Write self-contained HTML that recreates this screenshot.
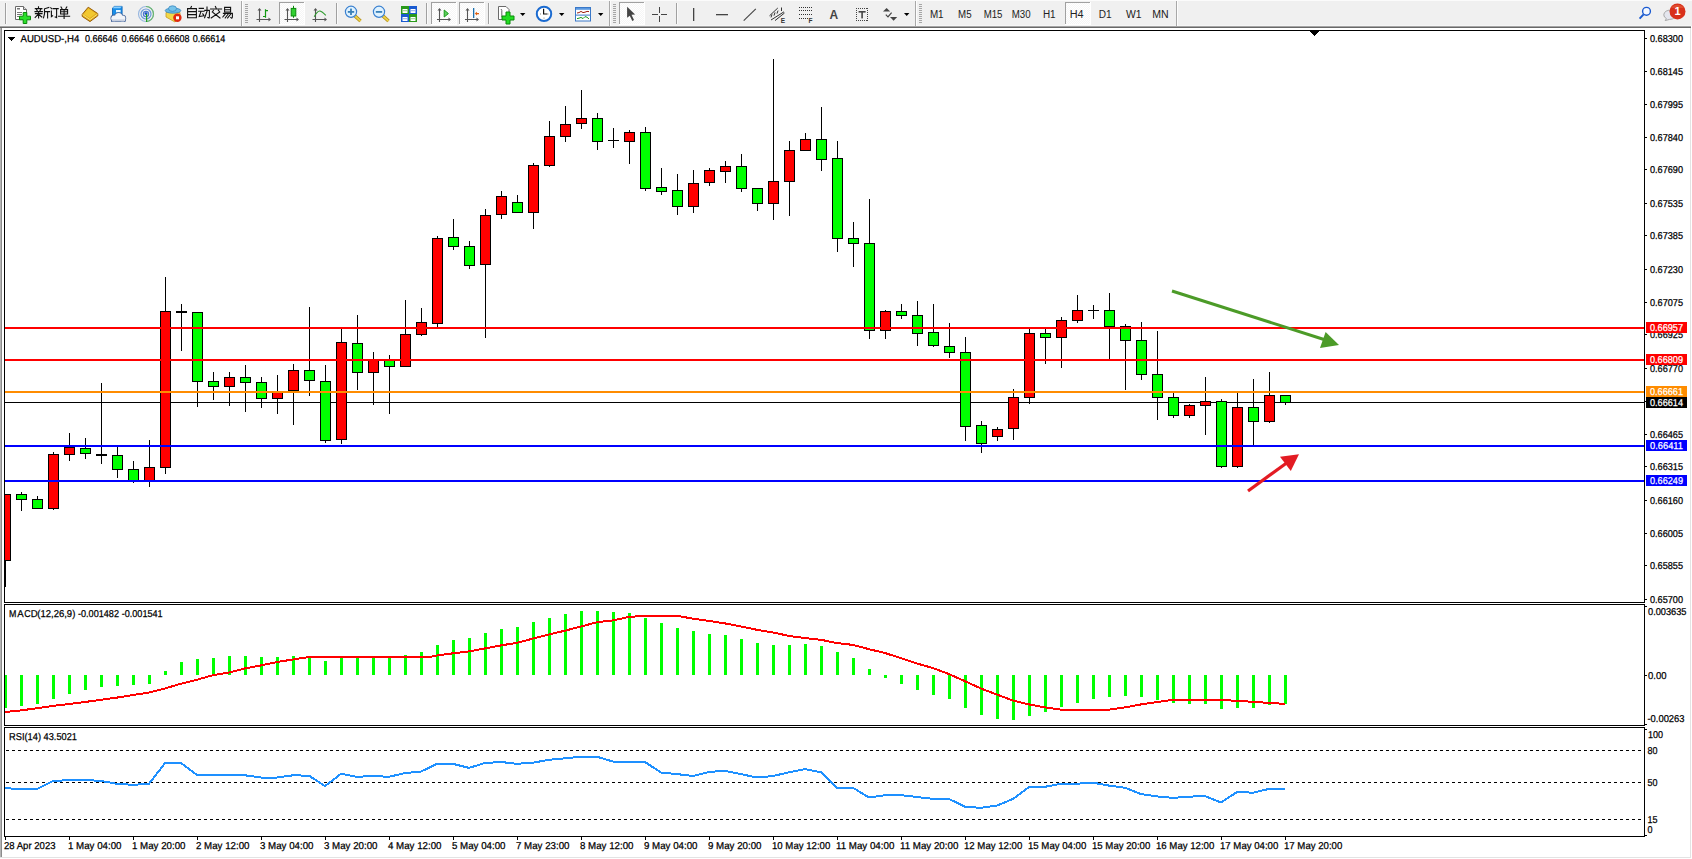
<!DOCTYPE html>
<html><head><meta charset="utf-8"><style>
html,body{margin:0;padding:0;background:#fff;}
body{width:1692px;height:859px;overflow:hidden;position:relative;font-family:"Liberation Sans", sans-serif;}
svg{position:absolute;left:0;top:0;}
text{font-family:"Liberation Sans", sans-serif;}
</style></head><body>
<svg width="1692" height="859" viewBox="0 0 1692 859" shape-rendering="crispEdges">
<rect x="0" y="0" width="1692" height="859" fill="#fff"/>
<rect x="0" y="26" width="1" height="832" fill="#b4b4b4"/><rect x="1" y="26" width="1" height="832" fill="#8c8c8c"/>
<rect x="1690" y="26" width="1" height="832" fill="#e3e3e3"/>
<rect x="0" y="857" width="1691" height="1" fill="#e3e3e3"/>
<rect x="0" y="0" width="1692" height="26" fill="#f0f0f0"/>
<rect x="0" y="0" width="1692" height="1" fill="#fbfbfb"/>
<rect x="0" y="25" width="1691" height="1" fill="#f5f5f5"/>
<rect x="0" y="26" width="1691" height="1" fill="#a4a4a4"/>
<rect x="0" y="27" width="1691" height="1" fill="#686868"/>
<g shape-rendering="crispEdges">
<rect x="241" y="1" width="1" height="25" fill="#a8a8a8"/>
<rect x="242" y="1" width="1" height="25" fill="#fdfdfd"/>
<rect x="609" y="1" width="1" height="25" fill="#a8a8a8"/>
<rect x="610" y="1" width="1" height="25" fill="#fdfdfd"/>
<rect x="915" y="1" width="1" height="25" fill="#a8a8a8"/>
<rect x="916" y="1" width="1" height="25" fill="#fdfdfd"/>
<rect x="1176" y="1" width="1" height="25" fill="#a8a8a8"/>
<rect x="1177" y="1" width="1" height="25" fill="#fdfdfd"/>
<rect x="5" y="3" width="1" height="21" fill="#a0a0a0"/>
<rect x="6" y="3" width="1" height="21" fill="#fafafa"/>
<rect x="336" y="3" width="1" height="21" fill="#a0a0a0"/>
<rect x="337" y="3" width="1" height="21" fill="#fafafa"/>
<rect x="426" y="3" width="1" height="21" fill="#a0a0a0"/>
<rect x="427" y="3" width="1" height="21" fill="#fafafa"/>
<rect x="488" y="3" width="1" height="21" fill="#a0a0a0"/>
<rect x="489" y="3" width="1" height="21" fill="#fafafa"/>
<rect x="676" y="3" width="1" height="21" fill="#a0a0a0"/>
<rect x="677" y="3" width="1" height="21" fill="#fafafa"/>
<rect x="245" y="4" width="3" height="1" fill="#a6a6a6"/>
<rect x="245" y="6" width="3" height="1" fill="#a6a6a6"/>
<rect x="245" y="8" width="3" height="1" fill="#a6a6a6"/>
<rect x="245" y="10" width="3" height="1" fill="#a6a6a6"/>
<rect x="245" y="12" width="3" height="1" fill="#a6a6a6"/>
<rect x="245" y="14" width="3" height="1" fill="#a6a6a6"/>
<rect x="245" y="16" width="3" height="1" fill="#a6a6a6"/>
<rect x="245" y="18" width="3" height="1" fill="#a6a6a6"/>
<rect x="245" y="20" width="3" height="1" fill="#a6a6a6"/>
<rect x="245" y="22" width="3" height="1" fill="#a6a6a6"/>
<rect x="613" y="4" width="3" height="1" fill="#a6a6a6"/>
<rect x="613" y="6" width="3" height="1" fill="#a6a6a6"/>
<rect x="613" y="8" width="3" height="1" fill="#a6a6a6"/>
<rect x="613" y="10" width="3" height="1" fill="#a6a6a6"/>
<rect x="613" y="12" width="3" height="1" fill="#a6a6a6"/>
<rect x="613" y="14" width="3" height="1" fill="#a6a6a6"/>
<rect x="613" y="16" width="3" height="1" fill="#a6a6a6"/>
<rect x="613" y="18" width="3" height="1" fill="#a6a6a6"/>
<rect x="613" y="20" width="3" height="1" fill="#a6a6a6"/>
<rect x="613" y="22" width="3" height="1" fill="#a6a6a6"/>
<rect x="919" y="4" width="3" height="1" fill="#a6a6a6"/>
<rect x="919" y="6" width="3" height="1" fill="#a6a6a6"/>
<rect x="919" y="8" width="3" height="1" fill="#a6a6a6"/>
<rect x="919" y="10" width="3" height="1" fill="#a6a6a6"/>
<rect x="919" y="12" width="3" height="1" fill="#a6a6a6"/>
<rect x="919" y="14" width="3" height="1" fill="#a6a6a6"/>
<rect x="919" y="16" width="3" height="1" fill="#a6a6a6"/>
<rect x="919" y="18" width="3" height="1" fill="#a6a6a6"/>
<rect x="919" y="20" width="3" height="1" fill="#a6a6a6"/>
<rect x="919" y="22" width="3" height="1" fill="#a6a6a6"/>
<defs><pattern id="chk" width="2" height="2" patternUnits="userSpaceOnUse"><rect width="2" height="2" fill="#f6f6f6"/><rect width="1" height="1" fill="#ffffff"/><rect x="1" y="1" width="1" height="1" fill="#ffffff"/></pattern></defs>
<rect x="279" y="2" width="25" height="22" fill="url(#chk)"/>
<rect x="279" y="2" width="25" height="1" fill="#a0a0a0"/>
<rect x="279" y="2" width="1" height="22" fill="#a0a0a0"/>
<rect x="279" y="24" width="26" height="1" fill="#ffffff"/>
<rect x="304" y="2" width="1" height="23" fill="#ffffff"/>
<rect x="431" y="2" width="25" height="22" fill="url(#chk)"/>
<rect x="431" y="2" width="25" height="1" fill="#a0a0a0"/>
<rect x="431" y="2" width="1" height="22" fill="#a0a0a0"/>
<rect x="431" y="24" width="26" height="1" fill="#ffffff"/>
<rect x="456" y="2" width="1" height="23" fill="#ffffff"/>
<rect x="459" y="2" width="25" height="22" fill="url(#chk)"/>
<rect x="459" y="2" width="25" height="1" fill="#a0a0a0"/>
<rect x="459" y="2" width="1" height="22" fill="#a0a0a0"/>
<rect x="459" y="24" width="26" height="1" fill="#ffffff"/>
<rect x="484" y="2" width="1" height="23" fill="#ffffff"/>
<rect x="619" y="2" width="25" height="22" fill="url(#chk)"/>
<rect x="619" y="2" width="25" height="1" fill="#a0a0a0"/>
<rect x="619" y="2" width="1" height="22" fill="#a0a0a0"/>
<rect x="619" y="24" width="26" height="1" fill="#ffffff"/>
<rect x="644" y="2" width="1" height="23" fill="#ffffff"/>
<rect x="1065" y="2" width="25" height="22" fill="url(#chk)"/>
<rect x="1065" y="2" width="25" height="1" fill="#a0a0a0"/>
<rect x="1065" y="2" width="1" height="22" fill="#a0a0a0"/>
<rect x="1065" y="24" width="26" height="1" fill="#ffffff"/>
<rect x="1090" y="2" width="1" height="23" fill="#ffffff"/>
</g>
<g shape-rendering="geometricPrecision">
<path d="M15.5,6.5 h8 l3,3 v10 h-11 z" fill="#fff" stroke="#6a6a6a" stroke-width="1"/>
<path d="M23.5,6.5 v3 h3" fill="#ddd" stroke="#6a6a6a" stroke-width="1"/>
<rect x="17" y="8" width="3" height="1.5" fill="#777"/>
<rect x="17" y="12" width="5" height="1" fill="#777"/><rect x="17" y="14" width="5" height="1" fill="#777"/><rect x="17" y="16" width="3" height="1" fill="#777"/>
<path d="M23.2,12.5 h3.6 v3.7 h3.7 v3.6 h-3.7 v3.7 h-3.6 v-3.7 h-3.7 v-3.6 h3.7 z" fill="#2ae02a" stroke="#0a8a0a" stroke-width="1"/>
<g fill="none" stroke="#111" stroke-width="1.1" stroke-linecap="square"><path d="M38.5,6.8v1.2 M35.3,8.6h6.6 M36.6,9.6l0.6,1 M40.6,9.6l-0.6,1 M35,11.6h7.4 M35.4,13.6h6.6 M38.6,11.6v6.4 M38.2,14.4l-3,3 M39,14.6l2.8,2.4 M48.8,7.4l-4.3,1.4v5.2l-1,3.8 M44.6,11.6h5 M47.6,11.6v6.4"/></g>
<g fill="none" stroke="#111" stroke-width="1.1" stroke-linecap="square"><path d="M50.8,7.8l1,1 M51.4,11v5.6l1.2,-0.8 M53.2,8.6h5 M56.6,8.6v9 l-1.4,-0.6"/></g>
<g fill="none" stroke="#111" stroke-width="1.1" stroke-linecap="square"><path d="M61,7l0.9,1.4 M66.8,7l-0.9,1.4 M60.6,9.6h7v4.4h-7z M60.6,11.8h7 M58.6,16.2h11 M64.1,9.6v8.8"/></g>
<path d="M88.2,7.2 L97.8,13.6 L97.8,15.8 L90,21.6 L82.2,16.4 L82.2,14.4 Z" fill="#e2ae1c" stroke="#9a5e0a" stroke-width="1" stroke-linejoin="round"/>
<path d="M82.6,14.6 L90,19.6 L97.6,14" fill="none" stroke="#f8e070" stroke-width="1"/>
<path d="M88.4,8.5 L95.8,13.6 L89.8,18 L83.6,14.2 Z" fill="#f2c830"/>
<path d="M112.5,8 l2,-1.6 h7.6 v8.8 l-2,1.6 h-7.6 z" fill="#1a8ee8" stroke="#1268b8" stroke-width="0.9"/>
<path d="M114.5,6.6 h7.6 l-2,1.6 h-7.6 z" fill="#8ad0ff"/>
<rect x="116" y="10" width="4.6" height="2.4" fill="#e8f6ff"/>
<g stroke="#44649a" stroke-width="1.6"><circle cx="114.2" cy="18.3" r="2.9"/><circle cx="118.6" cy="16.6" r="3.6"/><circle cx="122.6" cy="18.4" r="2.8"/><rect x="112" y="18" width="12.6" height="3.2"/></g>
<g fill="#f2f4f8"><circle cx="114.2" cy="18.3" r="2.9"/><circle cx="118.6" cy="16.6" r="3.6"/><circle cx="122.6" cy="18.4" r="2.8"/><rect x="112" y="18" width="12.6" height="3.2"/></g>
<rect x="112" y="19.4" width="12.6" height="1.8" fill="#c8d0e0"/>
<g fill="none" stroke-width="1.2"><circle cx="146" cy="14" r="7.5" stroke="#9ab8e0"/><circle cx="146" cy="14" r="5" stroke="#6a98d8"/><circle cx="146" cy="14" r="2.6" stroke="#4a7ad0"/></g>
<path d="M146,6.5 a7.5,7.5 0 0 1 0,15" fill="none" stroke="#6ab86a" stroke-width="1.2"/>
<circle cx="146" cy="13.6" r="1.4" fill="#1a50c0"/><rect x="146" y="14" width="1.2" height="8" fill="#22a022"/>
<path d="M166,17 L175,22 L180,17 L180,12.5 L166,12.5 Z" fill="#f2d848" stroke="#c89a20" stroke-width="0.8"/>
<ellipse cx="173" cy="10.6" rx="7.8" ry="2.6" fill="#6ab8e0" stroke="#3a88c0" stroke-width="0.8"/>
<ellipse cx="172.5" cy="8.6" rx="4" ry="2.8" fill="#78c4ea" stroke="#3a88c0" stroke-width="0.8"/>
<circle cx="177.4" cy="17.7" r="4.2" fill="#e02a10"/><rect x="176" y="16.3" width="3" height="3" fill="#fff"/>
<g fill="none" stroke="#111" stroke-width="1.1" stroke-linecap="square"><path d="M191.4,6.6l-0.8,1.6 M187.6,8.6h8.8v9.2h-8.8z M187.6,11.6h8.8 M187.6,14.6h8.8"/></g>
<g fill="none" stroke="#111" stroke-width="1.1" stroke-linecap="square"><path d="M199.2,8.4h4.2 M198.7,11.2h5.4 M201,11.4l-1.8,5.2l4.8,-0.8 M202.8,13.8l1,1.6 M204.8,10.4h4.6v6.4l-0.4,1.2l-1.2,-0.6 M207,7v4.4l-2.4,6.4"/></g>
<g fill="none" stroke="#111" stroke-width="1.1" stroke-linecap="square"><path d="M215.4,6.6l0.7,1.4 M210.6,9h11 M213.4,10.4l-1.2,1.6 M218.4,10.4l1.4,1.6 M213.2,12.6l6.8,5.4 M219,12.6l-7.8,5.4"/></g>
<g fill="none" stroke="#111" stroke-width="1.1" stroke-linecap="square"><path d="M224.6,7.4h6v4.6h-6z M224.6,9.7h6 M223.4,13.4h9v3.8l-0.6,1l-1,-0.6 M225.6,13.6l-2.8,3.4 M228.2,14l-3,4 M230.6,14.2l-3,3.8"/></g>
<g stroke="#555" stroke-width="1.1" fill="none"><path d="M259.5,9 V22 M256.5,19.5 H270"/></g>
<path d="M257.5,10.5 L259.5,8 L261.5,10.5 Z M268.5,17.5 L271,19.5 L268.5,21.5 Z" fill="#555"/>
<path d="M265.5,9.2 V17.8 M263,16.5 H265.5 M265.5,10.6 H268" stroke="#119911" stroke-width="1.2" fill="none"/>
<g stroke="#555" stroke-width="1.1" fill="none"><path d="M287.5,9 V22 M284.5,19.5 H298"/></g>
<path d="M285.5,10.5 L287.5,8 L289.5,10.5 Z M296.5,17.5 L299,19.5 L296.5,21.5 Z" fill="#555"/>
<path d="M293.5,5.8 V17.8" stroke="#0a8a0a" stroke-width="1"/><rect x="291.2" y="8.4" width="4.6" height="7.6" fill="#30d030" stroke="#0a8a0a" stroke-width="1"/>
<g stroke="#555" stroke-width="1.1" fill="none"><path d="M315.5,9 V22 M312.5,19.5 H326"/></g>
<path d="M313.5,10.5 L315.5,8 L317.5,10.5 Z M324.5,17.5 L327,19.5 L324.5,21.5 Z" fill="#555"/>
<path d="M314.2,16.8 Q317.5,10.5 320,11 Q322,11.4 325.8,15.4" stroke="#2a9a2a" stroke-width="1.1" fill="none"/>
<path d="M355,16 L360.5,21" stroke="#b08a10" stroke-width="3.4"/><path d="M355,16 L360.5,21" stroke="#ecd048" stroke-width="1.8"/>
<circle cx="351" cy="11.8" r="5.6" fill="#dff2ff" stroke="#3a80d0" stroke-width="1.2"/>
<rect x="347.8" y="11" width="6.4" height="1.8" fill="#3a80b8"/>
<rect x="350.1" y="8.6" width="1.8" height="6.4" fill="#3a80b8"/>
<path d="M383,16 L388.5,21" stroke="#b08a10" stroke-width="3.4"/><path d="M383,16 L388.5,21" stroke="#ecd048" stroke-width="1.8"/>
<circle cx="379" cy="11.8" r="5.6" fill="#dff2ff" stroke="#3a80d0" stroke-width="1.2"/>
<rect x="375.8" y="11" width="6.4" height="1.8" fill="#3a80b8"/>
<rect x="401" y="6" width="8" height="8" fill="#2a9a1a"/><rect x="402.5" y="9" width="5" height="4" fill="#fff"/><rect x="403" y="10.2" width="4" height="1" fill="#2a9a1a" opacity="0.5"/>
<rect x="409" y="6" width="8" height="8" fill="#1a5ad0"/><rect x="410.5" y="9" width="5" height="4" fill="#fff"/><rect x="411" y="10.2" width="4" height="1" fill="#1a5ad0" opacity="0.5"/>
<rect x="401" y="14" width="8" height="8" fill="#1a5ad0"/><rect x="402.5" y="17" width="5" height="4" fill="#fff"/><rect x="403" y="18.2" width="4" height="1" fill="#1a5ad0" opacity="0.5"/>
<rect x="409" y="14" width="8" height="8" fill="#2a9a1a"/><rect x="410.5" y="17" width="5" height="4" fill="#fff"/><rect x="411" y="18.2" width="4" height="1" fill="#2a9a1a" opacity="0.5"/>
<g stroke="#555" stroke-width="1.1" fill="none"><path d="M439.5,9 V22 M437,19.5 H450"/></g>
<path d="M437.5,10.5 L439.5,8 L441.5,10.5 Z M448.5,17.5 L451,19.5 L448.5,21.5 Z" fill="#555"/>
<path d="M444.2,10 L448.4,13.6 L444.2,17 Z" fill="#5ad05a" stroke="#1a9a1a" stroke-width="1"/>
<g stroke="#555" stroke-width="1.1" fill="none"><path d="M467.5,9 V22 M465,19.5 H478"/></g>
<path d="M465.5,10.5 L467.5,8 L469.5,10.5 Z M476.5,17.5 L479,19.5 L476.5,21.5 Z" fill="#555"/>
<rect x="473" y="8" width="1.3" height="10" fill="#1a70b0"/>
<path d="M474.8,13.6 L477,11.8 L477,15.4 Z" fill="#e06010"/><rect x="476" y="13" width="3" height="1.3" fill="#e06010"/>
<path d="M498.5,6.5 h7.5 l3,3 v10 h-10.5 z" fill="#fff" stroke="#6a6a6a" stroke-width="1"/>
<path d="M500.8,9.5 q1,-0.5 1,1 v6 q0,1 1,1" fill="none" stroke="#555" stroke-width="0.9"/>
<path d="M506,12 h4 v4 h4 v4 h-4 v4 h-4 v-4 h-4 v-4 h4 z" fill="#22dd22" stroke="#0a8a0a" stroke-width="1"/>
<path d="M520,13 h5.4 l-2.7,3 z" fill="#000"/>
<path d="M559,13 h5.4 l-2.7,3 z" fill="#000"/>
<path d="M598,13 h5.4 l-2.7,3 z" fill="#000"/>
<path d="M904,13 h5.4 l-2.7,3 z" fill="#000"/>
<circle cx="544" cy="13.9" r="7.2" fill="#fff" stroke="#1a6ad0" stroke-width="2"/>
<path d="M543.6,8.8 V14 H547.4" fill="none" stroke="#111" stroke-width="1.2"/>
<g fill="#888"><rect x="543.5" y="17.6" width="1" height="1"/><rect x="540" y="13.5" width="1" height="1"/><rect x="547.5" y="13.5" width="1" height="1"/></g>
<rect x="575.5" y="7.5" width="15" height="13.5" fill="#fff" stroke="#3a78c8" stroke-width="1"/>
<rect x="576" y="8" width="14" height="1.8" fill="#5a98e0"/><rect x="576" y="14.6" width="14" height="1" fill="#3a78c8"/>
<path d="M577,13 L579,12.6 L581,11.4 L583,12.6 L585,12.2 L587,11.4 L589,11.6" fill="none" stroke="#a02010" stroke-width="1"/>
<path d="M577,18.6 L579,18.2 L581,17.4 L583,18.6 L585,16.6 L587,17.2 L589,19" fill="none" stroke="#1a9a1a" stroke-width="1"/>
<path d="M627.1,6.8 L627.1,17.7 L629.8,15.7 L632.3,21 L634,20.1 L631.5,14.8 L635.1,14.5 Z" fill="#444"/>
<g shape-rendering="crispEdges" fill="#444"><rect x="652" y="14" width="6" height="1"/><rect x="661" y="14" width="6" height="1"/><rect x="659" y="7" width="1" height="6"/><rect x="659" y="16" width="1" height="6"/></g>
<rect x="693" y="8" width="1.3" height="13" fill="#444"/>
<rect x="716" y="14" width="12" height="1.3" fill="#444"/>
<path d="M743.7,20.7 L755.8,8.9" stroke="#444" stroke-width="1.1"/>
<path d="M769.5,15.8 L777.8,8 M771,20 L784,11.8 M775,20.6 L784.5,13" stroke="#333" stroke-width="1"/>
<path d="M772,14.4 l-1,3 M775,12.4 l-1,3.2 M778,10.6 l-1,3 M781.5,7.5 v3.5" stroke="#333" stroke-width="1"/>
<text x="780.8" y="22.8" font-size="6.5" font-weight="bold" fill="#333">E</text>
<g fill="#333" shape-rendering="crispEdges"><rect x="799" y="7" width="1" height="1"/><rect x="801" y="7" width="1" height="1"/><rect x="803" y="7" width="1" height="1"/><rect x="805" y="7" width="1" height="1"/><rect x="807" y="7" width="1" height="1"/><rect x="809" y="7" width="1" height="1"/><rect x="811" y="7" width="1" height="1"/><rect x="799" y="10" width="1" height="1"/><rect x="801" y="10" width="1" height="1"/><rect x="803" y="10" width="1" height="1"/><rect x="805" y="10" width="1" height="1"/><rect x="807" y="10" width="1" height="1"/><rect x="809" y="10" width="1" height="1"/><rect x="811" y="10" width="1" height="1"/><rect x="799" y="14" width="1" height="1"/><rect x="801" y="14" width="1" height="1"/><rect x="803" y="14" width="1" height="1"/><rect x="805" y="14" width="1" height="1"/><rect x="807" y="14" width="1" height="1"/><rect x="809" y="14" width="1" height="1"/><rect x="811" y="14" width="1" height="1"/><rect x="799" y="18" width="1" height="1"/><rect x="801" y="18" width="1" height="1"/><rect x="803" y="18" width="1" height="1"/><rect x="805" y="18" width="1" height="1"/><rect x="807" y="18" width="1" height="1"/></g>
<text x="808.6" y="22.8" font-size="6.5" font-weight="bold" fill="#333">F</text>
<text x="829.6" y="18.8" font-size="12" font-weight="bold" fill="#444">A</text>
<g fill="#444" shape-rendering="crispEdges"><rect x="856" y="8" width="1" height="1"/><rect x="856" y="20" width="1" height="1"/><rect x="858" y="8" width="1" height="1"/><rect x="858" y="20" width="1" height="1"/><rect x="860" y="8" width="1" height="1"/><rect x="860" y="20" width="1" height="1"/><rect x="862" y="8" width="1" height="1"/><rect x="862" y="20" width="1" height="1"/><rect x="864" y="8" width="1" height="1"/><rect x="864" y="20" width="1" height="1"/><rect x="866" y="8" width="1" height="1"/><rect x="866" y="20" width="1" height="1"/><rect x="856" y="8" width="1" height="1"/><rect x="867" y="8" width="1" height="1"/><rect x="856" y="10" width="1" height="1"/><rect x="867" y="10" width="1" height="1"/><rect x="856" y="12" width="1" height="1"/><rect x="867" y="12" width="1" height="1"/><rect x="856" y="14" width="1" height="1"/><rect x="867" y="14" width="1" height="1"/><rect x="856" y="16" width="1" height="1"/><rect x="867" y="16" width="1" height="1"/><rect x="856" y="18" width="1" height="1"/><rect x="867" y="18" width="1" height="1"/><rect x="856" y="20" width="1" height="1"/><rect x="867" y="20" width="1" height="1"/></g>
<rect x="858.6" y="11" width="7" height="1.6" fill="#444"/><rect x="861.3" y="11" width="1.6" height="7.4" fill="#444"/>
<path d="M883,11.6 L886.6,8 L890.2,11.6 Z" fill="#444"/><path d="M890,17 L893.6,20.8 L897.2,17 Z" fill="#444"/>
<path d="M885.8,14.6 L888,16.8 L891.6,12.6" fill="none" stroke="#444" stroke-width="1.2"/>
</g>
<text x="929.9000000000001" y="18" font-size="10" fill="#222" textLength="13.699999999999955" lengthAdjust="spacingAndGlyphs">M1</text>
<text x="958.1" y="18" font-size="10" fill="#222" textLength="13.500000000000023" lengthAdjust="spacingAndGlyphs">M5</text>
<text x="983.7" y="18" font-size="10" fill="#222" textLength="18.799999999999976" lengthAdjust="spacingAndGlyphs">M15</text>
<text x="1011.8000000000001" y="18" font-size="10" fill="#222" textLength="18.799999999999976" lengthAdjust="spacingAndGlyphs">M30</text>
<text x="1042.9" y="18" font-size="10" fill="#222" textLength="12.699999999999955" lengthAdjust="spacingAndGlyphs">H1</text>
<text x="1069.7" y="18" font-size="10" fill="#222" textLength="13.9" lengthAdjust="spacingAndGlyphs">H4</text>
<text x="1098.7" y="18" font-size="10" fill="#222" textLength="12.9" lengthAdjust="spacingAndGlyphs">D1</text>
<text x="1126.0" y="18" font-size="10" fill="#222" textLength="15.600000000000046" lengthAdjust="spacingAndGlyphs">W1</text>
<text x="1152.2" y="18" font-size="10" fill="#222" textLength="16.4" lengthAdjust="spacingAndGlyphs">MN</text>
<g shape-rendering="geometricPrecision">
<circle cx="1646.5" cy="11.3" r="3.9" fill="#f4f8ff" stroke="#1a5ad0" stroke-width="1.4"/>
<path d="M1643.6,14.4 L1639.6,18.6" stroke="#1a5ad0" stroke-width="2"/>
<path d="M1665.2,20.6 L1666.4,18.6 A6,4.6 0 1 1 1669.6,19.4 Z" fill="#e4e6ee" stroke="#a0a0a0" stroke-width="0.9"/>
<circle cx="1677.5" cy="11.4" r="8" fill="#d8301a"/>
<path d="M1671,8 a8,8 0 0 1 13,0" fill="#e8603e" opacity="0.6"/>
<text x="1674.6" y="15.4" font-size="11" font-weight="bold" fill="#fff">1</text>
</g>
<g text-rendering="geometricPrecision">
<rect x="4" y="30" width="1641" height="1" fill="#000"/>
<rect x="4" y="602" width="1641" height="1" fill="#000"/>
<rect x="4" y="30" width="1" height="573" fill="#000"/>
<rect x="1644" y="30" width="1" height="573" fill="#000"/>
<rect x="4" y="604" width="1641" height="1" fill="#000"/>
<rect x="4" y="725" width="1641" height="1" fill="#000"/>
<rect x="4" y="604" width="1" height="122" fill="#000"/>
<rect x="1644" y="604" width="1" height="122" fill="#000"/>
<rect x="4" y="727" width="1641" height="1" fill="#000"/>
<rect x="4" y="836" width="1641" height="1" fill="#000"/>
<rect x="4" y="727" width="1" height="110" fill="#000"/>
<rect x="1644" y="727" width="1" height="110" fill="#000"/>
<defs><clipPath id="cm"><rect x="5" y="31" width="1639" height="571"/></clipPath><clipPath id="cd"><rect x="5" y="605" width="1639" height="120"/></clipPath><clipPath id="cr"><rect x="5" y="728" width="1639" height="108"/></clipPath></defs>
<g clip-path="url(#cm)">
<rect x="5" y="402" width="1639" height="1" fill="#000"/>
<rect x="5" y="494" width="1" height="93" fill="#000"/>
<rect x="0" y="494" width="11" height="67" fill="#000"/>
<rect x="1" y="495" width="9" height="65" fill="#ff0000"/>
<rect x="21" y="492" width="1" height="19" fill="#000"/>
<rect x="16" y="494" width="11" height="6" fill="#000"/>
<rect x="17" y="495" width="9" height="4" fill="#00ff00"/>
<rect x="37" y="496" width="1" height="13" fill="#000"/>
<rect x="32" y="499" width="11" height="10" fill="#000"/>
<rect x="33" y="500" width="9" height="8" fill="#00ff00"/>
<rect x="53" y="452" width="1" height="58" fill="#000"/>
<rect x="48" y="454" width="11" height="55" fill="#000"/>
<rect x="49" y="455" width="9" height="53" fill="#ff0000"/>
<rect x="69" y="433" width="1" height="28" fill="#000"/>
<rect x="64" y="447" width="11" height="8" fill="#000"/>
<rect x="65" y="448" width="9" height="6" fill="#ff0000"/>
<rect x="85" y="438" width="1" height="21" fill="#000"/>
<rect x="80" y="448" width="11" height="6" fill="#000"/>
<rect x="81" y="449" width="9" height="4" fill="#00ff00"/>
<rect x="101" y="383" width="1" height="81" fill="#000"/>
<rect x="96" y="454" width="11" height="2" fill="#000"/>
<rect x="117" y="447" width="1" height="31" fill="#000"/>
<rect x="112" y="455" width="11" height="15" fill="#000"/>
<rect x="113" y="456" width="9" height="13" fill="#00ff00"/>
<rect x="133" y="461" width="1" height="22" fill="#000"/>
<rect x="128" y="469" width="11" height="12" fill="#000"/>
<rect x="129" y="470" width="9" height="10" fill="#00ff00"/>
<rect x="149" y="440" width="1" height="47" fill="#000"/>
<rect x="144" y="467" width="11" height="14" fill="#000"/>
<rect x="145" y="468" width="9" height="12" fill="#ff0000"/>
<rect x="165" y="277" width="1" height="197" fill="#000"/>
<rect x="160" y="311" width="11" height="157" fill="#000"/>
<rect x="161" y="312" width="9" height="155" fill="#ff0000"/>
<rect x="181" y="304" width="1" height="47" fill="#000"/>
<rect x="176" y="311" width="11" height="2" fill="#000"/>
<rect x="197" y="312" width="1" height="95" fill="#000"/>
<rect x="192" y="312" width="11" height="70" fill="#000"/>
<rect x="193" y="313" width="9" height="68" fill="#00ff00"/>
<rect x="213" y="372" width="1" height="28" fill="#000"/>
<rect x="208" y="381" width="11" height="6" fill="#000"/>
<rect x="209" y="382" width="9" height="4" fill="#00ff00"/>
<rect x="229" y="372" width="1" height="34" fill="#000"/>
<rect x="224" y="377" width="11" height="10" fill="#000"/>
<rect x="225" y="378" width="9" height="8" fill="#ff0000"/>
<rect x="245" y="365" width="1" height="47" fill="#000"/>
<rect x="240" y="377" width="11" height="6" fill="#000"/>
<rect x="241" y="378" width="9" height="4" fill="#00ff00"/>
<rect x="261" y="377" width="1" height="31" fill="#000"/>
<rect x="256" y="382" width="11" height="17" fill="#000"/>
<rect x="257" y="383" width="9" height="15" fill="#00ff00"/>
<rect x="277" y="375" width="1" height="39" fill="#000"/>
<rect x="272" y="392" width="11" height="7" fill="#000"/>
<rect x="273" y="393" width="9" height="5" fill="#ff0000"/>
<rect x="293" y="364" width="1" height="61" fill="#000"/>
<rect x="288" y="370" width="11" height="21" fill="#000"/>
<rect x="289" y="371" width="9" height="19" fill="#ff0000"/>
<rect x="309" y="307" width="1" height="89" fill="#000"/>
<rect x="304" y="370" width="11" height="11" fill="#000"/>
<rect x="305" y="371" width="9" height="9" fill="#00ff00"/>
<rect x="325" y="365" width="1" height="78" fill="#000"/>
<rect x="320" y="381" width="11" height="60" fill="#000"/>
<rect x="321" y="382" width="9" height="58" fill="#00ff00"/>
<rect x="341" y="328" width="1" height="116" fill="#000"/>
<rect x="336" y="342" width="11" height="98" fill="#000"/>
<rect x="337" y="343" width="9" height="96" fill="#ff0000"/>
<rect x="357" y="315" width="1" height="75" fill="#000"/>
<rect x="352" y="343" width="11" height="30" fill="#000"/>
<rect x="353" y="344" width="9" height="28" fill="#00ff00"/>
<rect x="373" y="352" width="1" height="53" fill="#000"/>
<rect x="368" y="360" width="11" height="13" fill="#000"/>
<rect x="369" y="361" width="9" height="11" fill="#ff0000"/>
<rect x="389" y="355" width="1" height="59" fill="#000"/>
<rect x="384" y="360" width="11" height="7" fill="#000"/>
<rect x="385" y="361" width="9" height="5" fill="#00ff00"/>
<rect x="405" y="300" width="1" height="67" fill="#000"/>
<rect x="400" y="334" width="11" height="33" fill="#000"/>
<rect x="401" y="335" width="9" height="31" fill="#ff0000"/>
<rect x="421" y="308" width="1" height="28" fill="#000"/>
<rect x="416" y="322" width="11" height="13" fill="#000"/>
<rect x="417" y="323" width="9" height="11" fill="#ff0000"/>
<rect x="437" y="236" width="1" height="91" fill="#000"/>
<rect x="432" y="238" width="11" height="86" fill="#000"/>
<rect x="433" y="239" width="9" height="84" fill="#ff0000"/>
<rect x="453" y="219" width="1" height="31" fill="#000"/>
<rect x="448" y="237" width="11" height="10" fill="#000"/>
<rect x="449" y="238" width="9" height="8" fill="#00ff00"/>
<rect x="469" y="241" width="1" height="28" fill="#000"/>
<rect x="464" y="246" width="11" height="20" fill="#000"/>
<rect x="465" y="247" width="9" height="18" fill="#00ff00"/>
<rect x="485" y="209" width="1" height="129" fill="#000"/>
<rect x="480" y="215" width="11" height="50" fill="#000"/>
<rect x="481" y="216" width="9" height="48" fill="#ff0000"/>
<rect x="501" y="191" width="1" height="28" fill="#000"/>
<rect x="496" y="196" width="11" height="19" fill="#000"/>
<rect x="497" y="197" width="9" height="17" fill="#ff0000"/>
<rect x="517" y="195" width="1" height="18" fill="#000"/>
<rect x="512" y="202" width="11" height="11" fill="#000"/>
<rect x="513" y="203" width="9" height="9" fill="#00ff00"/>
<rect x="533" y="163" width="1" height="66" fill="#000"/>
<rect x="528" y="165" width="11" height="48" fill="#000"/>
<rect x="529" y="166" width="9" height="46" fill="#ff0000"/>
<rect x="549" y="121" width="1" height="46" fill="#000"/>
<rect x="544" y="136" width="11" height="30" fill="#000"/>
<rect x="545" y="137" width="9" height="28" fill="#ff0000"/>
<rect x="565" y="106" width="1" height="36" fill="#000"/>
<rect x="560" y="124" width="11" height="13" fill="#000"/>
<rect x="561" y="125" width="9" height="11" fill="#ff0000"/>
<rect x="581" y="90" width="1" height="39" fill="#000"/>
<rect x="576" y="118" width="11" height="6" fill="#000"/>
<rect x="577" y="119" width="9" height="4" fill="#ff0000"/>
<rect x="597" y="113" width="1" height="37" fill="#000"/>
<rect x="592" y="118" width="11" height="24" fill="#000"/>
<rect x="593" y="119" width="9" height="22" fill="#00ff00"/>
<rect x="613" y="128" width="1" height="20" fill="#000"/>
<rect x="608" y="140" width="11" height="1" fill="#000"/>
<rect x="629" y="130" width="1" height="34" fill="#000"/>
<rect x="624" y="132" width="11" height="10" fill="#000"/>
<rect x="625" y="133" width="9" height="8" fill="#ff0000"/>
<rect x="645" y="127" width="1" height="64" fill="#000"/>
<rect x="640" y="132" width="11" height="57" fill="#000"/>
<rect x="641" y="133" width="9" height="55" fill="#00ff00"/>
<rect x="661" y="168" width="1" height="27" fill="#000"/>
<rect x="656" y="187" width="11" height="5" fill="#000"/>
<rect x="657" y="188" width="9" height="3" fill="#00ff00"/>
<rect x="677" y="174" width="1" height="41" fill="#000"/>
<rect x="672" y="190" width="11" height="17" fill="#000"/>
<rect x="673" y="191" width="9" height="15" fill="#00ff00"/>
<rect x="693" y="170" width="1" height="43" fill="#000"/>
<rect x="688" y="183" width="11" height="24" fill="#000"/>
<rect x="689" y="184" width="9" height="22" fill="#ff0000"/>
<rect x="709" y="168" width="1" height="18" fill="#000"/>
<rect x="704" y="170" width="11" height="13" fill="#000"/>
<rect x="705" y="171" width="9" height="11" fill="#ff0000"/>
<rect x="725" y="161" width="1" height="22" fill="#000"/>
<rect x="720" y="166" width="11" height="6" fill="#000"/>
<rect x="721" y="167" width="9" height="4" fill="#ff0000"/>
<rect x="741" y="154" width="1" height="38" fill="#000"/>
<rect x="736" y="166" width="11" height="23" fill="#000"/>
<rect x="737" y="167" width="9" height="21" fill="#00ff00"/>
<rect x="757" y="188" width="1" height="23" fill="#000"/>
<rect x="752" y="188" width="11" height="16" fill="#000"/>
<rect x="753" y="189" width="9" height="14" fill="#00ff00"/>
<rect x="773" y="59" width="1" height="161" fill="#000"/>
<rect x="768" y="181" width="11" height="23" fill="#000"/>
<rect x="769" y="182" width="9" height="21" fill="#ff0000"/>
<rect x="789" y="141" width="1" height="75" fill="#000"/>
<rect x="784" y="150" width="11" height="32" fill="#000"/>
<rect x="785" y="151" width="9" height="30" fill="#ff0000"/>
<rect x="805" y="133" width="1" height="18" fill="#000"/>
<rect x="800" y="139" width="11" height="12" fill="#000"/>
<rect x="801" y="140" width="9" height="10" fill="#ff0000"/>
<rect x="821" y="107" width="1" height="64" fill="#000"/>
<rect x="816" y="139" width="11" height="21" fill="#000"/>
<rect x="817" y="140" width="9" height="19" fill="#00ff00"/>
<rect x="837" y="141" width="1" height="111" fill="#000"/>
<rect x="832" y="158" width="11" height="81" fill="#000"/>
<rect x="833" y="159" width="9" height="79" fill="#00ff00"/>
<rect x="853" y="222" width="1" height="45" fill="#000"/>
<rect x="848" y="238" width="11" height="6" fill="#000"/>
<rect x="849" y="239" width="9" height="4" fill="#00ff00"/>
<rect x="869" y="199" width="1" height="140" fill="#000"/>
<rect x="864" y="243" width="11" height="88" fill="#000"/>
<rect x="865" y="244" width="9" height="86" fill="#00ff00"/>
<rect x="885" y="310" width="1" height="29" fill="#000"/>
<rect x="880" y="311" width="11" height="20" fill="#000"/>
<rect x="881" y="312" width="9" height="18" fill="#ff0000"/>
<rect x="901" y="304" width="1" height="15" fill="#000"/>
<rect x="896" y="311" width="11" height="5" fill="#000"/>
<rect x="897" y="312" width="9" height="3" fill="#00ff00"/>
<rect x="917" y="301" width="1" height="45" fill="#000"/>
<rect x="912" y="315" width="11" height="19" fill="#000"/>
<rect x="913" y="316" width="9" height="17" fill="#00ff00"/>
<rect x="933" y="304" width="1" height="43" fill="#000"/>
<rect x="928" y="332" width="11" height="14" fill="#000"/>
<rect x="929" y="333" width="9" height="12" fill="#00ff00"/>
<rect x="949" y="323" width="1" height="35" fill="#000"/>
<rect x="944" y="346" width="11" height="7" fill="#000"/>
<rect x="945" y="347" width="9" height="5" fill="#00ff00"/>
<rect x="965" y="337" width="1" height="104" fill="#000"/>
<rect x="960" y="352" width="11" height="75" fill="#000"/>
<rect x="961" y="353" width="9" height="73" fill="#00ff00"/>
<rect x="981" y="421" width="1" height="32" fill="#000"/>
<rect x="976" y="425" width="11" height="19" fill="#000"/>
<rect x="977" y="426" width="9" height="17" fill="#00ff00"/>
<rect x="997" y="427" width="1" height="14" fill="#000"/>
<rect x="992" y="429" width="11" height="8" fill="#000"/>
<rect x="993" y="430" width="9" height="6" fill="#ff0000"/>
<rect x="1013" y="389" width="1" height="51" fill="#000"/>
<rect x="1008" y="397" width="11" height="32" fill="#000"/>
<rect x="1009" y="398" width="9" height="30" fill="#ff0000"/>
<rect x="1029" y="329" width="1" height="75" fill="#000"/>
<rect x="1024" y="333" width="11" height="65" fill="#000"/>
<rect x="1025" y="334" width="9" height="63" fill="#ff0000"/>
<rect x="1045" y="329" width="1" height="35" fill="#000"/>
<rect x="1040" y="333" width="11" height="5" fill="#000"/>
<rect x="1041" y="334" width="9" height="3" fill="#00ff00"/>
<rect x="1061" y="317" width="1" height="51" fill="#000"/>
<rect x="1056" y="320" width="11" height="18" fill="#000"/>
<rect x="1057" y="321" width="9" height="16" fill="#ff0000"/>
<rect x="1077" y="295" width="1" height="28" fill="#000"/>
<rect x="1072" y="310" width="11" height="11" fill="#000"/>
<rect x="1073" y="311" width="9" height="9" fill="#ff0000"/>
<rect x="1093" y="305" width="1" height="14" fill="#000"/>
<rect x="1088" y="310" width="11" height="1" fill="#000"/>
<rect x="1109" y="293" width="1" height="67" fill="#000"/>
<rect x="1104" y="310" width="11" height="17" fill="#000"/>
<rect x="1105" y="311" width="9" height="15" fill="#00ff00"/>
<rect x="1125" y="324" width="1" height="66" fill="#000"/>
<rect x="1120" y="326" width="11" height="15" fill="#000"/>
<rect x="1121" y="327" width="9" height="13" fill="#00ff00"/>
<rect x="1141" y="322" width="1" height="58" fill="#000"/>
<rect x="1136" y="340" width="11" height="35" fill="#000"/>
<rect x="1137" y="341" width="9" height="33" fill="#00ff00"/>
<rect x="1157" y="331" width="1" height="89" fill="#000"/>
<rect x="1152" y="374" width="11" height="24" fill="#000"/>
<rect x="1153" y="375" width="9" height="22" fill="#00ff00"/>
<rect x="1173" y="392" width="1" height="26" fill="#000"/>
<rect x="1168" y="397" width="11" height="19" fill="#000"/>
<rect x="1169" y="398" width="9" height="17" fill="#00ff00"/>
<rect x="1189" y="404" width="1" height="14" fill="#000"/>
<rect x="1184" y="405" width="11" height="11" fill="#000"/>
<rect x="1185" y="406" width="9" height="9" fill="#ff0000"/>
<rect x="1205" y="377" width="1" height="58" fill="#000"/>
<rect x="1200" y="401" width="11" height="5" fill="#000"/>
<rect x="1201" y="402" width="9" height="3" fill="#ff0000"/>
<rect x="1221" y="399" width="1" height="69" fill="#000"/>
<rect x="1216" y="401" width="11" height="66" fill="#000"/>
<rect x="1217" y="402" width="9" height="64" fill="#00ff00"/>
<rect x="1237" y="392" width="1" height="76" fill="#000"/>
<rect x="1232" y="407" width="11" height="60" fill="#000"/>
<rect x="1233" y="408" width="9" height="58" fill="#ff0000"/>
<rect x="1253" y="379" width="1" height="67" fill="#000"/>
<rect x="1248" y="407" width="11" height="15" fill="#000"/>
<rect x="1249" y="408" width="9" height="13" fill="#00ff00"/>
<rect x="1269" y="372" width="1" height="51" fill="#000"/>
<rect x="1264" y="395" width="11" height="27" fill="#000"/>
<rect x="1265" y="396" width="9" height="25" fill="#ff0000"/>
<rect x="1285" y="395" width="1" height="10" fill="#000"/>
<rect x="1280" y="395" width="11" height="8" fill="#000"/>
<rect x="1281" y="396" width="9" height="6" fill="#00ff00"/>
<rect x="5" y="327" width="1639" height="2" fill="#ff0000"/>
<rect x="5" y="359" width="1639" height="2" fill="#ff0000"/>
<rect x="5" y="391" width="1639" height="2" fill="#ff8c00"/>
<rect x="5" y="445" width="1639" height="2" fill="#0000ff"/>
<rect x="5" y="480" width="1639" height="2" fill="#0000ff"/>
<g shape-rendering="geometricPrecision">
<line x1="1172" y1="291" x2="1324" y2="339.5" stroke="#4c9b28" stroke-width="3"/>
<polygon points="1339,345 1325.6,331.9 1320,347.9" fill="#4c9b28"/>
<line x1="1248" y1="491" x2="1288" y2="462" stroke="#e31b23" stroke-width="3.2"/>
<polygon points="1299,454.3 1280,456.8 1290.8,471" fill="#e31b23"/>
</g>
</g>
<polygon points="1309.5,31 1319.5,31 1314.5,36" fill="#000"/>
<g clip-path="url(#cd)">
<rect x="4" y="675" width="3" height="33" fill="#00ff00"/>
<rect x="20" y="675" width="3" height="31" fill="#00ff00"/>
<rect x="36" y="675" width="3" height="29" fill="#00ff00"/>
<rect x="52" y="675" width="3" height="24" fill="#00ff00"/>
<rect x="68" y="675" width="3" height="19" fill="#00ff00"/>
<rect x="84" y="675" width="3" height="15" fill="#00ff00"/>
<rect x="100" y="675" width="3" height="12" fill="#00ff00"/>
<rect x="116" y="675" width="3" height="11" fill="#00ff00"/>
<rect x="132" y="675" width="3" height="10" fill="#00ff00"/>
<rect x="148" y="675" width="3" height="9" fill="#00ff00"/>
<rect x="164" y="671" width="3" height="4" fill="#00ff00"/>
<rect x="180" y="662" width="3" height="13" fill="#00ff00"/>
<rect x="196" y="659" width="3" height="16" fill="#00ff00"/>
<rect x="212" y="658" width="3" height="17" fill="#00ff00"/>
<rect x="228" y="656" width="3" height="19" fill="#00ff00"/>
<rect x="244" y="656" width="3" height="19" fill="#00ff00"/>
<rect x="260" y="657" width="3" height="18" fill="#00ff00"/>
<rect x="276" y="657" width="3" height="18" fill="#00ff00"/>
<rect x="292" y="656" width="3" height="19" fill="#00ff00"/>
<rect x="308" y="656" width="3" height="19" fill="#00ff00"/>
<rect x="324" y="661" width="3" height="14" fill="#00ff00"/>
<rect x="340" y="657" width="3" height="18" fill="#00ff00"/>
<rect x="356" y="657" width="3" height="18" fill="#00ff00"/>
<rect x="372" y="657" width="3" height="18" fill="#00ff00"/>
<rect x="388" y="657" width="3" height="18" fill="#00ff00"/>
<rect x="404" y="655" width="3" height="20" fill="#00ff00"/>
<rect x="420" y="652" width="3" height="23" fill="#00ff00"/>
<rect x="436" y="645" width="3" height="30" fill="#00ff00"/>
<rect x="452" y="640" width="3" height="35" fill="#00ff00"/>
<rect x="468" y="638" width="3" height="37" fill="#00ff00"/>
<rect x="484" y="633" width="3" height="42" fill="#00ff00"/>
<rect x="500" y="629" width="3" height="46" fill="#00ff00"/>
<rect x="516" y="627" width="3" height="48" fill="#00ff00"/>
<rect x="532" y="622" width="3" height="53" fill="#00ff00"/>
<rect x="548" y="618" width="3" height="57" fill="#00ff00"/>
<rect x="564" y="614" width="3" height="61" fill="#00ff00"/>
<rect x="580" y="611" width="3" height="64" fill="#00ff00"/>
<rect x="596" y="611" width="3" height="64" fill="#00ff00"/>
<rect x="612" y="612" width="3" height="63" fill="#00ff00"/>
<rect x="628" y="613" width="3" height="62" fill="#00ff00"/>
<rect x="644" y="618" width="3" height="57" fill="#00ff00"/>
<rect x="660" y="623" width="3" height="52" fill="#00ff00"/>
<rect x="676" y="628" width="3" height="47" fill="#00ff00"/>
<rect x="692" y="631" width="3" height="44" fill="#00ff00"/>
<rect x="708" y="634" width="3" height="41" fill="#00ff00"/>
<rect x="724" y="635" width="3" height="40" fill="#00ff00"/>
<rect x="740" y="639" width="3" height="36" fill="#00ff00"/>
<rect x="756" y="643" width="3" height="32" fill="#00ff00"/>
<rect x="772" y="645" width="3" height="30" fill="#00ff00"/>
<rect x="788" y="645" width="3" height="30" fill="#00ff00"/>
<rect x="804" y="644" width="3" height="31" fill="#00ff00"/>
<rect x="820" y="646" width="3" height="29" fill="#00ff00"/>
<rect x="836" y="652" width="3" height="23" fill="#00ff00"/>
<rect x="852" y="658" width="3" height="17" fill="#00ff00"/>
<rect x="868" y="669" width="3" height="6" fill="#00ff00"/>
<rect x="884" y="675" width="3" height="3" fill="#00ff00"/>
<rect x="900" y="675" width="3" height="9" fill="#00ff00"/>
<rect x="916" y="675" width="3" height="15" fill="#00ff00"/>
<rect x="932" y="675" width="3" height="20" fill="#00ff00"/>
<rect x="948" y="675" width="3" height="24" fill="#00ff00"/>
<rect x="964" y="675" width="3" height="33" fill="#00ff00"/>
<rect x="980" y="675" width="3" height="40" fill="#00ff00"/>
<rect x="996" y="675" width="3" height="44" fill="#00ff00"/>
<rect x="1012" y="675" width="3" height="45" fill="#00ff00"/>
<rect x="1028" y="675" width="3" height="41" fill="#00ff00"/>
<rect x="1044" y="675" width="3" height="37" fill="#00ff00"/>
<rect x="1060" y="675" width="3" height="32" fill="#00ff00"/>
<rect x="1076" y="675" width="3" height="28" fill="#00ff00"/>
<rect x="1092" y="675" width="3" height="24" fill="#00ff00"/>
<rect x="1108" y="675" width="3" height="22" fill="#00ff00"/>
<rect x="1124" y="675" width="3" height="21" fill="#00ff00"/>
<rect x="1140" y="675" width="3" height="22" fill="#00ff00"/>
<rect x="1156" y="675" width="3" height="25" fill="#00ff00"/>
<rect x="1172" y="675" width="3" height="28" fill="#00ff00"/>
<rect x="1188" y="675" width="3" height="29" fill="#00ff00"/>
<rect x="1204" y="675" width="3" height="29" fill="#00ff00"/>
<rect x="1220" y="675" width="3" height="34" fill="#00ff00"/>
<rect x="1236" y="675" width="3" height="33" fill="#00ff00"/>
<rect x="1252" y="675" width="3" height="33" fill="#00ff00"/>
<rect x="1268" y="675" width="3" height="30" fill="#00ff00"/>
<rect x="1284" y="675" width="3" height="29" fill="#00ff00"/>
<polyline points="5,712 21,710.4 37,708.2 53,705.9 69,704 85,702 101,699.8 117,697.6 133,695 149,692.6 165,688.5 181,683.7 197,679.7 213,675.2 229,672.6 245,668.4 261,665.4 277,662 293,659.5 309,657 429,657 437,655.5 453,653.3 469,651.4 485,648.4 501,645.4 517,642.8 533,638.6 549,634.5 565,630.7 581,626.5 597,622.2 613,620.4 629,616.9 645,615.9 677,615.9 693,618.6 709,620.9 725,623.4 741,626.5 757,629.8 773,632.5 789,635.9 805,638.1 821,639.8 837,643.1 853,644.9 869,649.2 885,653 901,658.2 917,663.5 933,668.1 949,674.1 965,681.2 981,688.5 997,694.6 1013,700.6 1029,704.4 1045,707.4 1061,709.7 1109,709.7 1125,707.4 1141,704.4 1157,702.1 1173,699.8 1221,699.8 1237,700.9 1253,701.8 1269,702.9 1285,703.9" fill="none" stroke="#ff0000" stroke-width="2"/>
</g>
<g clip-path="url(#cr)">
<line x1="6" y1="750.5" x2="1644" y2="750.5" stroke="#000" stroke-width="1" stroke-dasharray="3,3"/>
<line x1="6" y1="782.5" x2="1644" y2="782.5" stroke="#000" stroke-width="1" stroke-dasharray="3,3"/>
<line x1="6" y1="819.5" x2="1644" y2="819.5" stroke="#000" stroke-width="1" stroke-dasharray="3,3"/>
<polyline points="5,788.2 21,789 37,789 53,781.1 69,780 85,780 101,780.9 117,783.8 133,784.8 149,783.8 165,763.1 181,763.1 197,775 213,775 229,775 245,775.3 261,777.5 277,777.5 293,775.3 309,775.7 325,786.1 341,773.8 357,776.8 373,776 389,776.8 405,773.1 421,771.6 437,763.9 453,763.9 469,767.9 485,763 501,762 517,763.8 533,762.7 549,759.8 565,758.3 581,756.8 597,756.8 613,761.5 629,762 645,762 661,772.6 677,774.1 693,776 709,771.9 725,770.9 741,774.1 757,777.5 773,776 789,772.3 805,769.1 821,772.3 837,787.6 853,787.8 869,797.5 885,795.2 901,795.2 917,797 933,798.9 949,798.9 965,806.8 981,807.8 997,805.6 1013,798.9 1029,787.1 1045,786.8 1061,783.7 1077,783.7 1093,782.7 1109,785.6 1125,787.8 1141,794.1 1157,796.4 1173,797.9 1189,796.7 1205,796 1221,802.6 1237,792 1253,792.7 1269,788.9 1285,788.9" fill="none" stroke="#1e90ff" stroke-width="2"/>
</g>
<rect x="1645" y="38" width="2" height="1" fill="#000"/>
<text x="1650" y="42" font-size="10" fill="#000" stroke="#000" stroke-width="0.25" textLength="33" lengthAdjust="spacingAndGlyphs">0.68300</text>
<rect x="1645" y="71" width="2" height="1" fill="#000"/>
<text x="1650" y="75" font-size="10" fill="#000" stroke="#000" stroke-width="0.25" textLength="33" lengthAdjust="spacingAndGlyphs">0.68145</text>
<rect x="1645" y="104" width="2" height="1" fill="#000"/>
<text x="1650" y="108" font-size="10" fill="#000" stroke="#000" stroke-width="0.25" textLength="33" lengthAdjust="spacingAndGlyphs">0.67995</text>
<rect x="1645" y="137" width="2" height="1" fill="#000"/>
<text x="1650" y="141" font-size="10" fill="#000" stroke="#000" stroke-width="0.25" textLength="33" lengthAdjust="spacingAndGlyphs">0.67840</text>
<rect x="1645" y="169" width="2" height="1" fill="#000"/>
<text x="1650" y="173" font-size="10" fill="#000" stroke="#000" stroke-width="0.25" textLength="33" lengthAdjust="spacingAndGlyphs">0.67690</text>
<rect x="1645" y="203" width="2" height="1" fill="#000"/>
<text x="1650" y="207" font-size="10" fill="#000" stroke="#000" stroke-width="0.25" textLength="33" lengthAdjust="spacingAndGlyphs">0.67535</text>
<rect x="1645" y="235" width="2" height="1" fill="#000"/>
<text x="1650" y="239" font-size="10" fill="#000" stroke="#000" stroke-width="0.25" textLength="33" lengthAdjust="spacingAndGlyphs">0.67385</text>
<rect x="1645" y="269" width="2" height="1" fill="#000"/>
<text x="1650" y="273" font-size="10" fill="#000" stroke="#000" stroke-width="0.25" textLength="33" lengthAdjust="spacingAndGlyphs">0.67230</text>
<rect x="1645" y="302" width="2" height="1" fill="#000"/>
<text x="1650" y="306" font-size="10" fill="#000" stroke="#000" stroke-width="0.25" textLength="33" lengthAdjust="spacingAndGlyphs">0.67075</text>
<rect x="1645" y="334" width="2" height="1" fill="#000"/>
<text x="1650" y="338" font-size="10" fill="#000" stroke="#000" stroke-width="0.25" textLength="33" lengthAdjust="spacingAndGlyphs">0.66925</text>
<rect x="1645" y="368" width="2" height="1" fill="#000"/>
<text x="1650" y="372" font-size="10" fill="#000" stroke="#000" stroke-width="0.25" textLength="33" lengthAdjust="spacingAndGlyphs">0.66770</text>
<rect x="1645" y="401" width="2" height="1" fill="#000"/>
<rect x="1645" y="434" width="2" height="1" fill="#000"/>
<text x="1650" y="438" font-size="10" fill="#000" stroke="#000" stroke-width="0.25" textLength="33" lengthAdjust="spacingAndGlyphs">0.66465</text>
<rect x="1645" y="466" width="2" height="1" fill="#000"/>
<text x="1650" y="470" font-size="10" fill="#000" stroke="#000" stroke-width="0.25" textLength="33" lengthAdjust="spacingAndGlyphs">0.66315</text>
<rect x="1645" y="500" width="2" height="1" fill="#000"/>
<text x="1650" y="504" font-size="10" fill="#000" stroke="#000" stroke-width="0.25" textLength="33" lengthAdjust="spacingAndGlyphs">0.66160</text>
<rect x="1645" y="533" width="2" height="1" fill="#000"/>
<text x="1650" y="537" font-size="10" fill="#000" stroke="#000" stroke-width="0.25" textLength="33" lengthAdjust="spacingAndGlyphs">0.66005</text>
<rect x="1645" y="565" width="2" height="1" fill="#000"/>
<text x="1650" y="569" font-size="10" fill="#000" stroke="#000" stroke-width="0.25" textLength="33" lengthAdjust="spacingAndGlyphs">0.65855</text>
<rect x="1645" y="599" width="2" height="1" fill="#000"/>
<text x="1650" y="603" font-size="10" fill="#000" stroke="#000" stroke-width="0.25" textLength="33" lengthAdjust="spacingAndGlyphs">0.65700</text>
<rect x="1646" y="322" width="41" height="11" fill="#ff0000"/>
<text x="1650" y="331" font-size="10" fill="#fff" stroke="#fff" stroke-width="0.25" textLength="33" lengthAdjust="spacingAndGlyphs">0.66957</text>
<rect x="1646" y="354" width="41" height="11" fill="#ff0000"/>
<text x="1650" y="363" font-size="10" fill="#fff" stroke="#fff" stroke-width="0.25" textLength="33" lengthAdjust="spacingAndGlyphs">0.66809</text>
<rect x="1646" y="386" width="41" height="11" fill="#ff8c00"/>
<text x="1650" y="395" font-size="10" fill="#fff" stroke="#fff" stroke-width="0.25" textLength="33" lengthAdjust="spacingAndGlyphs">0.66661</text>
<rect x="1646" y="397" width="41" height="11" fill="#000"/>
<text x="1650" y="406" font-size="10" fill="#fff" stroke="#fff" stroke-width="0.25" textLength="33" lengthAdjust="spacingAndGlyphs">0.66614</text>
<rect x="1646" y="440" width="41" height="11" fill="#0000ff"/>
<text x="1650" y="449" font-size="10" fill="#fff" stroke="#fff" stroke-width="0.25" textLength="33" lengthAdjust="spacingAndGlyphs">0.66411</text>
<rect x="1646" y="475" width="41" height="11" fill="#0000ff"/>
<text x="1650" y="484" font-size="10" fill="#fff" stroke="#fff" stroke-width="0.25" textLength="33" lengthAdjust="spacingAndGlyphs">0.66249</text>
<rect x="1645" y="606" width="2" height="1" fill="#000"/>
<text x="1648" y="615" font-size="10" fill="#000" stroke="#000" stroke-width="0.25" textLength="38.5" lengthAdjust="spacingAndGlyphs">0.003635</text>
<rect x="1645" y="675" width="2" height="1" fill="#000"/>
<text x="1648" y="679" font-size="10" fill="#000" stroke="#000" stroke-width="0.25" textLength="18.5" lengthAdjust="spacingAndGlyphs">0.00</text>
<rect x="1645" y="724" width="2" height="1" fill="#000"/>
<text x="1647.5" y="722" font-size="10" fill="#000" stroke="#000" stroke-width="0.25" textLength="37" lengthAdjust="spacingAndGlyphs">-0.00263</text>
<rect x="1645" y="729" width="2" height="1" fill="#000"/>
<text x="1648" y="738" font-size="10" fill="#000" stroke="#000" stroke-width="0.25" textLength="15" lengthAdjust="spacingAndGlyphs">100</text>
<text x="1647.5" y="753.6" font-size="10" fill="#000" stroke="#000" stroke-width="0.25" textLength="10" lengthAdjust="spacingAndGlyphs">80</text>
<text x="1647.5" y="785.6" font-size="10" fill="#000" stroke="#000" stroke-width="0.25" textLength="10" lengthAdjust="spacingAndGlyphs">50</text>
<text x="1647.5" y="822.6" font-size="10" fill="#000" stroke="#000" stroke-width="0.25" textLength="10" lengthAdjust="spacingAndGlyphs">15</text>
<text x="1647.5" y="832.6" font-size="10" fill="#000" stroke="#000" stroke-width="0.25" textLength="5" lengthAdjust="spacingAndGlyphs">0</text>
<rect x="1645" y="835" width="2" height="1" fill="#000"/>
<polygon points="7.5,36.5 15.5,36.5 11.5,41" fill="#000"/>
<text x="20.5" y="42" font-size="10" fill="#000" stroke="#000" stroke-width="0.25" textLength="58.8" lengthAdjust="spacingAndGlyphs">AUDUSD-,H4</text>
<text x="84.9" y="42" font-size="10" fill="#000" stroke="#000" stroke-width="0.25" textLength="32.6" lengthAdjust="spacingAndGlyphs">0.66646</text>
<text x="121.5" y="42" font-size="10" fill="#000" stroke="#000" stroke-width="0.25" textLength="32.6" lengthAdjust="spacingAndGlyphs">0.66646</text>
<text x="157.0" y="42" font-size="10" fill="#000" stroke="#000" stroke-width="0.25" textLength="32.6" lengthAdjust="spacingAndGlyphs">0.66608</text>
<text x="192.79999999999998" y="42" font-size="10" fill="#000" stroke="#000" stroke-width="0.25" textLength="32.6" lengthAdjust="spacingAndGlyphs">0.66614</text>
<text x="9.1" y="617" font-size="10" fill="#000" stroke="#000" stroke-width="0.25" textLength="7.4" lengthAdjust="spacingAndGlyphs">M</text>
<text x="17.2" y="617" font-size="10" fill="#000" stroke="#000" stroke-width="0.25" textLength="6.4" lengthAdjust="spacingAndGlyphs">A</text>
<text x="24.2" y="617" font-size="10" fill="#000" stroke="#000" stroke-width="0.25" textLength="6.4" lengthAdjust="spacingAndGlyphs">C</text>
<text x="30.7" y="617" font-size="10" fill="#000" stroke="#000" stroke-width="0.25" textLength="6.9" lengthAdjust="spacingAndGlyphs">D</text>
<text x="37.3" y="617" font-size="10" fill="#000" stroke="#000" stroke-width="0.25" textLength="38" lengthAdjust="spacingAndGlyphs">(12,26,9)</text>
<text x="78" y="617" font-size="10" fill="#000" stroke="#000" stroke-width="0.25" textLength="41" lengthAdjust="spacingAndGlyphs">-0.001482</text>
<text x="121.7" y="617" font-size="10" fill="#000" stroke="#000" stroke-width="0.25" textLength="41" lengthAdjust="spacingAndGlyphs">-0.001541</text>
<text x="9" y="740" font-size="10" fill="#000" stroke="#000" stroke-width="0.25" textLength="32" lengthAdjust="spacingAndGlyphs">RSI(14)</text>
<text x="43.6" y="740" font-size="10" fill="#000" stroke="#000" stroke-width="0.25" textLength="33.3" lengthAdjust="spacingAndGlyphs">43.5021</text>
<rect x="5" y="837" width="1" height="3" fill="#000"/>
<text x="4" y="849" font-size="10" fill="#000" stroke="#000" stroke-width="0.25" textLength="51.5" lengthAdjust="spacingAndGlyphs">28 Apr 2023</text>
<rect x="69" y="837" width="1" height="3" fill="#000"/>
<text x="68" y="849" font-size="10" fill="#000" stroke="#000" stroke-width="0.25" textLength="53.5" lengthAdjust="spacingAndGlyphs">1 May 04:00</text>
<rect x="133" y="837" width="1" height="3" fill="#000"/>
<text x="132" y="849" font-size="10" fill="#000" stroke="#000" stroke-width="0.25" textLength="53.5" lengthAdjust="spacingAndGlyphs">1 May 20:00</text>
<rect x="197" y="837" width="1" height="3" fill="#000"/>
<text x="196" y="849" font-size="10" fill="#000" stroke="#000" stroke-width="0.25" textLength="53.5" lengthAdjust="spacingAndGlyphs">2 May 12:00</text>
<rect x="261" y="837" width="1" height="3" fill="#000"/>
<text x="260" y="849" font-size="10" fill="#000" stroke="#000" stroke-width="0.25" textLength="53.5" lengthAdjust="spacingAndGlyphs">3 May 04:00</text>
<rect x="325" y="837" width="1" height="3" fill="#000"/>
<text x="324" y="849" font-size="10" fill="#000" stroke="#000" stroke-width="0.25" textLength="53.5" lengthAdjust="spacingAndGlyphs">3 May 20:00</text>
<rect x="389" y="837" width="1" height="3" fill="#000"/>
<text x="388" y="849" font-size="10" fill="#000" stroke="#000" stroke-width="0.25" textLength="53.5" lengthAdjust="spacingAndGlyphs">4 May 12:00</text>
<rect x="453" y="837" width="1" height="3" fill="#000"/>
<text x="452" y="849" font-size="10" fill="#000" stroke="#000" stroke-width="0.25" textLength="53.5" lengthAdjust="spacingAndGlyphs">5 May 04:00</text>
<rect x="517" y="837" width="1" height="3" fill="#000"/>
<text x="516" y="849" font-size="10" fill="#000" stroke="#000" stroke-width="0.25" textLength="53.5" lengthAdjust="spacingAndGlyphs">7 May 23:00</text>
<rect x="581" y="837" width="1" height="3" fill="#000"/>
<text x="580" y="849" font-size="10" fill="#000" stroke="#000" stroke-width="0.25" textLength="53.5" lengthAdjust="spacingAndGlyphs">8 May 12:00</text>
<rect x="645" y="837" width="1" height="3" fill="#000"/>
<text x="644" y="849" font-size="10" fill="#000" stroke="#000" stroke-width="0.25" textLength="53.5" lengthAdjust="spacingAndGlyphs">9 May 04:00</text>
<rect x="709" y="837" width="1" height="3" fill="#000"/>
<text x="708" y="849" font-size="10" fill="#000" stroke="#000" stroke-width="0.25" textLength="53.5" lengthAdjust="spacingAndGlyphs">9 May 20:00</text>
<rect x="773" y="837" width="1" height="3" fill="#000"/>
<text x="772" y="849" font-size="10" fill="#000" stroke="#000" stroke-width="0.25" textLength="58.3" lengthAdjust="spacingAndGlyphs">10 May 12:00</text>
<rect x="837" y="837" width="1" height="3" fill="#000"/>
<text x="836" y="849" font-size="10" fill="#000" stroke="#000" stroke-width="0.25" textLength="58.3" lengthAdjust="spacingAndGlyphs">11 May 04:00</text>
<rect x="901" y="837" width="1" height="3" fill="#000"/>
<text x="900" y="849" font-size="10" fill="#000" stroke="#000" stroke-width="0.25" textLength="58.3" lengthAdjust="spacingAndGlyphs">11 May 20:00</text>
<rect x="965" y="837" width="1" height="3" fill="#000"/>
<text x="964" y="849" font-size="10" fill="#000" stroke="#000" stroke-width="0.25" textLength="58.3" lengthAdjust="spacingAndGlyphs">12 May 12:00</text>
<rect x="1029" y="837" width="1" height="3" fill="#000"/>
<text x="1028" y="849" font-size="10" fill="#000" stroke="#000" stroke-width="0.25" textLength="58.3" lengthAdjust="spacingAndGlyphs">15 May 04:00</text>
<rect x="1093" y="837" width="1" height="3" fill="#000"/>
<text x="1092" y="849" font-size="10" fill="#000" stroke="#000" stroke-width="0.25" textLength="58.3" lengthAdjust="spacingAndGlyphs">15 May 20:00</text>
<rect x="1157" y="837" width="1" height="3" fill="#000"/>
<text x="1156" y="849" font-size="10" fill="#000" stroke="#000" stroke-width="0.25" textLength="58.3" lengthAdjust="spacingAndGlyphs">16 May 12:00</text>
<rect x="1221" y="837" width="1" height="3" fill="#000"/>
<text x="1220" y="849" font-size="10" fill="#000" stroke="#000" stroke-width="0.25" textLength="58.3" lengthAdjust="spacingAndGlyphs">17 May 04:00</text>
<rect x="1285" y="837" width="1" height="3" fill="#000"/>
<text x="1284" y="849" font-size="10" fill="#000" stroke="#000" stroke-width="0.25" textLength="58.3" lengthAdjust="spacingAndGlyphs">17 May 20:00</text>
</g>
</svg>
</body></html>
